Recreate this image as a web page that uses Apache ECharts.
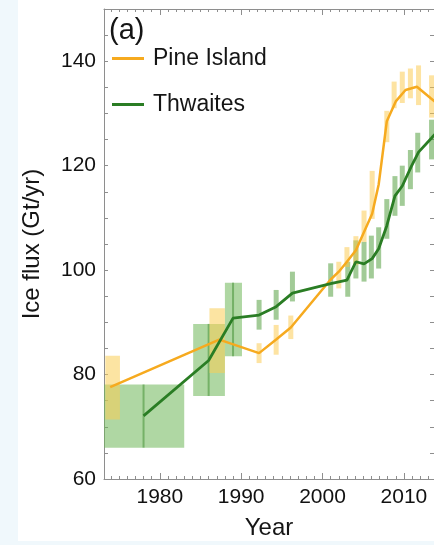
<!DOCTYPE html>
<html>
<head>
<meta charset="utf-8">
<script src="https://cdn.jsdelivr.net/npm/echarts@6/dist/echarts.min.js"></script>
<style>
html,body{margin:0;padding:0;background:#f0f8fc;}
#c{width:434px;height:545px;}
</style>
</head>
<body>
<div id="c"></div>
<script>
// ---------- data ----------
// Pine Island line
const pineYears = [1973.9, 1987.3, 1992.2, 1994.3, 1996.1, 2001.0, 2002.0, 2003.0, 2004.1, 2005.1, 2006.1, 2006.9, 2007.9, 2009.0, 2010.2, 2011.6, 2013.3, 2013.8];
const pineFlux  = [77.6, 86.7, 84.1, 86.7, 89.0, 98.2, 99.7, 101.6, 103.8, 107.3, 110.8, 116.4, 128.5, 132.3, 134.5, 135.1, 132.9, 132.3];
// Pine Island error bars
const pineBarYears = [1992.2, 1994.3, 1996.1, 2002.0, 2003.0, 2004.1, 2005.1, 2006.1, 2007.9, 2008.8, 2009.8, 2010.8, 2011.8, 2013.4];
const pineBarLow   = [82.2, 83.8, 86.8, 96.5, 100.6, 101.0, 105.4, 109.8, 124.5, 131.0, 132.0, 132.9, 131.6, 129.2];
const pineBarHigh  = [86.0, 89.5, 91.3, 101.6, 104.4, 106.5, 111.4, 119.0, 130.5, 136.1, 138.0, 138.6, 139.2, 137.3];
// Pine Island uncertainty boxes (time span x flux span)
const pineBoxStart = [1973.3, 1986.1];
const pineBoxEnd   = [1975.1, 1988.0];
const pineBoxLow   = [71.4, 80.3];
const pineBoxHigh  = [83.6, 92.7];

// Thwaites line
const thwYears = [1978.0, 1986.0, 1989.0, 1992.2, 1994.3, 1996.3, 2001.0, 2003.0, 2004.1, 2005.1, 2006.1, 2006.9, 2007.9, 2008.9, 2009.8, 2010.9, 2011.8, 2013.4, 2013.8];
const thwFlux  = [72.1, 82.7, 90.8, 91.4, 93.0, 95.6, 97.4, 98.1, 101.6, 101.2, 102.2, 104.1, 108.5, 114.2, 116.1, 119.8, 122.6, 125.3, 126.0];
// Thwaites error bars
const thwBarYears = [1992.2, 1994.3, 1996.3, 2001.0, 2003.1, 2004.1, 2005.1, 2006.0, 2006.9, 2007.9, 2008.9, 2009.8, 2010.8, 2011.7, 2013.4];
const thwBarLow   = [88.6, 90.5, 94.0, 94.9, 94.9, 98.4, 97.8, 98.4, 100.3, 106.0, 110.4, 112.3, 115.5, 118.7, 121.2];
const thwBarHigh  = [94.3, 96.2, 99.7, 101.3, 101.6, 105.7, 105.4, 106.6, 108.2, 113.6, 118.0, 120.0, 123.0, 126.3, 128.8];
// Thwaites uncertainty boxes
const thwBoxStart  = [1972.9, 1984.1, 1988.0];
const thwBoxEnd    = [1983.0, 1988.0, 1990.1];
const thwBoxLow    = [66.0, 75.9, 83.5];
const thwBoxHigh   = [78.1, 89.7, 97.6];
const thwBoxCenter = [1978.0, 1986.0, 1989.0];

// tick labels
const xTickLabels = [1980, 1990, 2000, 2010];
const yTickLabels = [60, 80, 100, 120, 140];

// ---------- chart ----------
const FONT = "'Liberation Sans', Arial, Helvetica, sans-serif";
const X_MIN = 1973.14, X_MAX = 2013.7, Y_MIN = 60, Y_MAX = 150;
const yearTicks = [];
for (let y = 1974; y <= 2013; y++) yearTicks.push(y);
const fluxTicks = [];
for (let v = 65; v < 150; v += 5) fluxTicks.push(v);

const AXC = '#8e8e8e';
const plain = v => String(v);

function boxRender(fill, centerStroke) {
  return function (params, api) {
    const p0 = api.coord([api.value(0), api.value(3)]);
    const p1 = api.coord([api.value(1), api.value(2)]);
    const children = [{
      type: 'rect',
      shape: {x: p0[0], y: p0[1], width: p1[0] - p0[0], height: p1[1] - p0[1]},
      style: {fill: fill}
    }];
    if (centerStroke) {
      const c0 = api.coord([api.value(4), api.value(3)]);
      const c1 = api.coord([api.value(4), api.value(2)]);
      children.push({
        type: 'line',
        shape: {x1: c0[0], y1: c0[1], x2: c1[0], y2: c1[1]},
        style: {stroke: centerStroke, lineWidth: 2}
      });
    }
    return {type: 'group', children: children};
  };
}
function barRender(fill) {
  return function (params, api) {
    const top = api.coord([api.value(0), api.value(2)]);
    const bot = api.coord([api.value(0), api.value(1)]);
    const w = 5;
    return {
      type: 'rect',
      shape: {x: top[0] - w / 2, y: top[1], width: w, height: bot[1] - top[1]},
      style: {fill: fill}
    };
  };
}

const option = {
  backgroundColor: '#f0f8fc',
  animation: false,
  graphic: [{
    type: 'rect', z: -100, silent: true,
    shape: {x: 18, y: 0, width: 416, height: 541},
    style: {fill: '#ffffff'}
  }],
  title: {
    text: '(a)', left: 109, top: 16, padding: 0,
    textStyle: {fontFamily: FONT, fontSize: 29, fontWeight: 'normal', color: '#151515'}
  },
  legend: {
    data: ['Pine Island', 'Thwaites'],
    orient: 'vertical', left: 112, top: 47, padding: 0,
    icon: 'rect', itemWidth: 32, itemHeight: 3, itemGap: 23,
    textStyle: {fontFamily: FONT, fontSize: 23, color: '#151515', padding: [0, 0, 0, 4]}
  },
  grid: {left: 104, top: 9, right: -1, bottom: 63, containLabel: false},
  xAxis: [
    {
      type: 'value', position: 'bottom', min: X_MIN, max: X_MAX,
      name: 'Year', nameLocation: 'middle', nameGap: 37,
      nameTextStyle: {fontFamily: FONT, fontSize: 24, color: '#151515'},
      axisLine: {show: true, lineStyle: {color: AXC, width: 1}},
      axisTick: {show: true, inside: true, length: 6, customValues: xTickLabels, lineStyle: {color: AXC}},
      axisLabel: {customValues: xTickLabels, formatter: plain, fontFamily: FONT, fontSize: 21, color: '#111111', margin: 8},
      splitLine: {show: false}
    },
    {
      type: 'value', position: 'bottom', min: X_MIN, max: X_MAX,
      axisLine: {show: false},
      axisTick: {show: true, inside: true, length: 3, customValues: yearTicks, lineStyle: {color: AXC}},
      axisLabel: {show: false},
      splitLine: {show: false}
    },
    {
      type: 'value', position: 'top', min: X_MIN, max: X_MAX,
      axisLine: {show: true, lineStyle: {color: AXC, width: 1}},
      axisTick: {show: true, inside: true, length: 6, customValues: xTickLabels, lineStyle: {color: AXC}},
      axisLabel: {show: false},
      splitLine: {show: false}
    },
    {
      type: 'value', position: 'top', min: X_MIN, max: X_MAX,
      axisLine: {show: false},
      axisTick: {show: true, inside: true, length: 3, customValues: yearTicks, lineStyle: {color: AXC}},
      axisLabel: {show: false},
      splitLine: {show: false}
    }
  ],
  yAxis: [
    {
      type: 'value', position: 'left', min: Y_MIN, max: Y_MAX,
      name: 'Ice flux (Gt/yr)', nameLocation: 'middle', nameGap: 60,
      nameTextStyle: {fontFamily: FONT, fontSize: 24, color: '#151515'},
      axisLine: {show: true, lineStyle: {color: AXC, width: 1}},
      axisTick: {show: true, inside: true, length: 4, customValues: fluxTicks, lineStyle: {color: AXC}},
      axisLabel: {customValues: yTickLabels, formatter: plain, fontFamily: FONT, fontSize: 21, color: '#111111', margin: 8},
      splitLine: {show: false}
    },
    {
      type: 'value', position: 'right', min: Y_MIN, max: Y_MAX,
      axisLine: {show: true, lineStyle: {color: AXC, width: 1}},
      axisTick: {show: true, inside: true, length: 4, customValues: fluxTicks, lineStyle: {color: AXC}},
      axisLabel: {show: false},
      splitLine: {show: false}
    }
  ],
  series: [
    {
      name: 'Thwaites boxes', type: 'custom', clip: true, z: 2,
      renderItem: boxRender('rgba(110,182,88,0.55)', 'rgba(70,145,55,0.55)'),
      encode: {x: [0, 1, 4], y: [2, 3]},
      data: thwBoxStart.map((s, i) => [s, thwBoxEnd[i], thwBoxLow[i], thwBoxHigh[i], thwBoxCenter[i]])
    },
    {
      name: 'Pine Island boxes', type: 'custom', clip: true, z: 2,
      renderItem: boxRender('rgba(250,205,85,0.55)', null),
      encode: {x: [0, 1], y: [2, 3]},
      data: pineBoxStart.map((s, i) => [s, pineBoxEnd[i], pineBoxLow[i], pineBoxHigh[i]])
    },
    {
      name: 'Thwaites errors', type: 'custom', clip: true, z: 3,
      renderItem: barRender('rgba(85,160,65,0.55)'),
      encode: {x: 0, y: [1, 2]},
      data: thwBarYears.map((y, i) => [y, thwBarLow[i], thwBarHigh[i]])
    },
    {
      name: 'Pine Island errors', type: 'custom', clip: true, z: 3,
      renderItem: barRender('rgba(252,200,70,0.5)'),
      encode: {x: 0, y: [1, 2]},
      data: pineBarYears.map((y, i) => [y, pineBarLow[i], pineBarHigh[i]])
    },
    {
      name: 'Pine Island', type: 'line', z: 4, clip: true,
      symbol: 'none', showSymbol: false,
      itemStyle: {color: '#f6aa1f'},
      lineStyle: {color: '#f6aa1f', width: 2.5},
      data: pineYears.map((y, i) => [y, pineFlux[i]])
    },
    {
      name: 'Thwaites', type: 'line', z: 5, clip: true,
      symbol: 'none', showSymbol: false,
      itemStyle: {color: '#2a7d24'},
      lineStyle: {color: '#2a7d24', width: 2.8},
      data: thwYears.map((y, i) => [y, thwFlux[i]])
    }
  ]
};

const chart = echarts.init(document.getElementById('c'), null, {renderer: 'canvas'});
chart.setOption(option);
</script>
</body>
</html>
